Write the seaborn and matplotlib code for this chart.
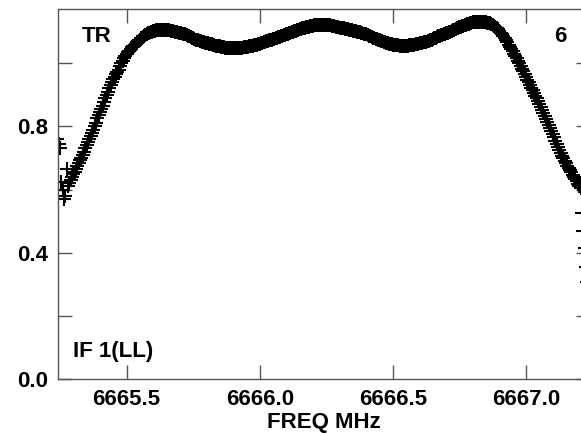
import numpy as np
import pandas as pd
import matplotlib
matplotlib.use("Agg")
import matplotlib.pyplot as plt
import seaborn as sns
from matplotlib.ticker import MultipleLocator

# channel amplitudes, 0.005 MHz apart starting at 6665.24 MHz
amp = [
    0.76, 0.745, 0.73, 0.625, 0.60, 0.57, 0.58, 0.665, 0.61, 0.62,
    0.63, 0.64, 0.65, 0.657, 0.665, 0.675, 0.685, 0.692, 0.70, 0.71,
    0.72, 0.73, 0.74, 0.75, 0.76, 0.77, 0.78, 0.79, 0.80, 0.812,
    0.825, 0.835, 0.845, 0.855, 0.865, 0.877, 0.89, 0.90, 0.91, 0.92,
    0.93, 0.94, 0.95, 0.957, 0.965, 0.972, 0.98, 0.99, 1.00, 1.007,
    1.015, 1.022, 1.03, 1.035, 1.04, 1.045, 1.05, 1.054, 1.058, 1.062,
    1.066, 1.07, 1.075, 1.079, 1.083, 1.087, 1.09, 1.093, 1.095, 1.097,
    1.099, 1.1, 1.102, 1.103, 1.104, 1.104, 1.105, 1.105, 1.106, 1.106,
    1.106, 1.106, 1.105, 1.104, 1.104, 1.103, 1.102, 1.101, 1.100, 1.099,
    1.098, 1.097, 1.096, 1.095, 1.094, 1.092, 1.091, 1.089, 1.087, 1.085,
    1.083, 1.081, 1.079, 1.077, 1.075, 1.073, 1.072, 1.07, 1.069, 1.067,
    1.066, 1.065, 1.064, 1.063, 1.062, 1.061, 1.060, 1.058, 1.057, 1.056,
    1.055, 1.054, 1.053, 1.052, 1.051, 1.05, 1.049, 1.048, 1.048, 1.047,
    1.047, 1.047, 1.047, 1.047, 1.047, 1.047, 1.048, 1.048, 1.049, 1.049,
    1.050, 1.051, 1.052, 1.052, 1.053, 1.054, 1.055, 1.056, 1.057, 1.058,
    1.059, 1.06, 1.062, 1.063, 1.065, 1.066, 1.068, 1.069, 1.071, 1.072,
    1.074, 1.075, 1.077, 1.078, 1.080, 1.081, 1.083, 1.084, 1.086, 1.087,
    1.089, 1.09, 1.092, 1.094, 1.096, 1.097, 1.099, 1.1, 1.102, 1.103,
    1.105, 1.106, 1.108, 1.109, 1.110, 1.111, 1.113, 1.114, 1.115, 1.116,
    1.117, 1.118, 1.119, 1.12, 1.120, 1.12, 1.121, 1.121, 1.122, 1.122,
    1.122, 1.122, 1.122, 1.122, 1.121, 1.12, 1.119, 1.118, 1.117, 1.116,
    1.115, 1.114, 1.113, 1.112, 1.111, 1.11, 1.109, 1.108, 1.107, 1.106,
    1.105, 1.104, 1.103, 1.102, 1.101, 1.1, 1.099, 1.098, 1.097, 1.095,
    1.094, 1.092, 1.091, 1.089, 1.087, 1.085, 1.083, 1.081, 1.079, 1.077,
    1.076, 1.074, 1.072, 1.07, 1.069, 1.067, 1.066, 1.064, 1.063, 1.062,
    1.061, 1.06, 1.059, 1.058, 1.058, 1.057, 1.057, 1.056, 1.056, 1.056,
    1.056, 1.056, 1.056, 1.056, 1.057, 1.057, 1.058, 1.058, 1.059, 1.06,
    1.061, 1.062, 1.063, 1.064, 1.065, 1.066, 1.067, 1.068, 1.070, 1.071,
    1.073, 1.075, 1.077, 1.079, 1.081, 1.083, 1.085, 1.086, 1.088, 1.09,
    1.092, 1.093, 1.095, 1.096, 1.098, 1.1, 1.102, 1.104, 1.106, 1.108,
    1.110, 1.112, 1.114, 1.116, 1.118, 1.119, 1.121, 1.122, 1.124, 1.125,
    1.127, 1.128, 1.129, 1.13, 1.131, 1.131, 1.132, 1.132, 1.132, 1.132,
    1.131, 1.13, 1.129, 1.128, 1.127, 1.126, 1.124, 1.122, 1.119, 1.116,
    1.112, 1.107, 1.102, 1.097, 1.091, 1.085, 1.079, 1.073, 1.066, 1.059,
    1.052, 1.045, 1.038, 1.03, 1.023, 1.015, 1.008, 1.0, 0.991, 0.982,
    0.974, 0.965, 0.957, 0.948, 0.940, 0.932, 0.923, 0.914, 0.906, 0.897,
    0.889, 0.88, 0.870, 0.861, 0.852, 0.842, 0.833, 0.823, 0.814, 0.805,
    0.795, 0.785, 0.775, 0.765, 0.755, 0.745, 0.735, 0.725, 0.716, 0.707,
    0.699, 0.691, 0.683, 0.675, 0.668, 0.661, 0.654, 0.647, 0.640, 0.633,
    0.626, 0.619, 0.612, 0.605, 0.526, 0.47, 0.415, 0.355, 0.307, 0.266,
]
freq_start = 6665.24
chan_width = 0.005
freq = freq_start + chan_width * np.arange(len(amp))

df = pd.DataFrame({"freq": freq, "amp": amp})

x_ticks = [6665.5, 6666.0, 6666.5, 6667.0]
y_ticks = [0.0, 0.4, 0.8]

sns.set_style("ticks")
plt.rcParams["font.family"] = ["Liberation Sans", "DejaVu Sans"]
plt.rcParams["font.weight"] = "bold"
plt.rcParams["text.color"] = "black"

fig = plt.figure(figsize=(5.81, 4.33), dpi=100)
ax = fig.add_axes([58 / 581, 54 / 433, 532 / 581, 370 / 433])

sns.scatterplot(data=df, x="freq", y="amp", marker="+", s=95,
                color="black", linewidth=1.5, ax=ax, legend=False)

ax.set_xlim(6665.2425, 6667.24)
ax.set_ylim(0, 1.1716)
ax.set_xticks(x_ticks)
ax.set_xticklabels([f"{t:.1f}" for t in x_ticks])
ax.set_yticks(y_ticks)
ax.set_yticklabels([f"{t:.1f}" for t in y_ticks])
ax.yaxis.set_minor_locator(MultipleLocator(0.2))

for s in ax.spines.values():
    s.set_visible(True)
    s.set_color("#555555")
    s.set_linewidth(1.0)

ax.tick_params(axis="both", which="both", direction="in", length=10,
               width=1.0, color="#555555", top=True, right=True,
               labelsize=16, labelcolor="black")
ax.tick_params(axis="x", pad=7.5)
ax.tick_params(axis="y", pad=7)
ax.tick_params(axis="x", which="minor", length=0)

ax.set_xlabel("FREQ MHz", fontsize=16, fontweight="bold", labelpad=1,
              color="black")
ax.set_ylabel("")

ax.text(0.045, 0.955, "TR", transform=ax.transAxes, fontsize=16,
        fontweight="bold", ha="left", va="top", color="black")
ax.text(0.955, 0.955, "6", transform=ax.transAxes, fontsize=16,
        fontweight="bold", ha="right", va="top", color="black")
ax.text(0.028, 0.059, "IF 1(LL)", transform=ax.transAxes, fontsize=16,
        fontweight="bold", ha="left", va="baseline", color="black")

fig.savefig("out.png", dpi=100)
